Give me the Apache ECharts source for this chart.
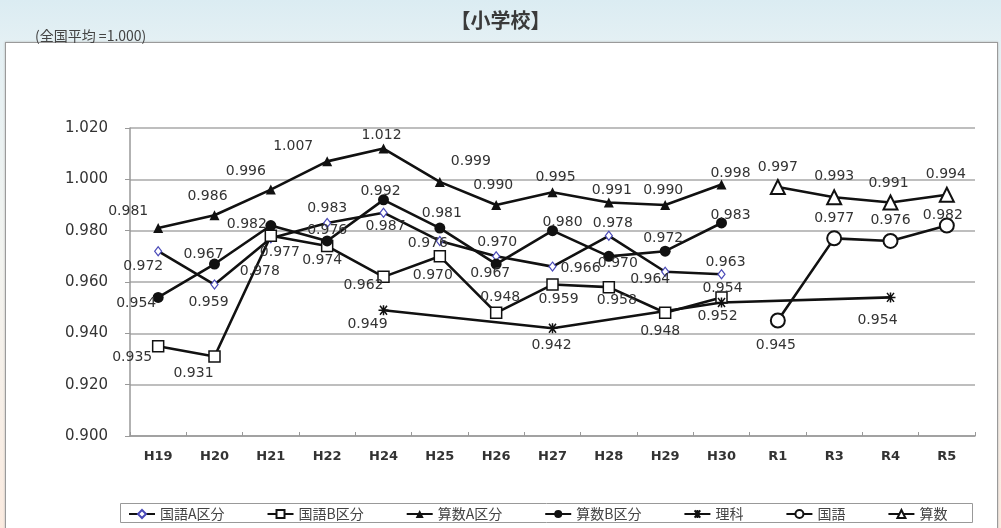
<!DOCTYPE html>
<html>
<head>
<meta charset="utf-8">
<script src="https://cdn.jsdelivr.net/npm/echarts@6/dist/echarts.min.js"></script>
<style>
  html, body { margin: 0; padding: 0; width: 1001px; height: 528px; overflow: hidden; }
  body { background: linear-gradient(180deg, #dbecf2 0%, #e4f0f4 42px, #f3f4f0 260px, #fbebe0 528px); }
  #panel { position: absolute; left: 5px; top: 42px; width: 991px; height: 500px; background: #fff;
           border: 1px solid #9a9a9a; box-shadow: 0 0 2px #b8b8b8; }
  #chart { position: absolute; left: 0; top: 0; width: 1001px; height: 528px; }
</style>
</head>
<body>
<div id="panel"></div>
<div id="chart"></div>
<script>
// School years (平成 / 令和)
const categories = ['H19', 'H20', 'H21', 'H22', 'H24', 'H25', 'H26', 'H27', 'H28', 'H29', 'H30', 'R1', 'R3', 'R4', 'R5'];
const yTicks = [0.900, 0.920, 0.940, 0.960, 0.980, 1.000, 1.020];

// Ratio to the national average (全国平均 = 1.000)
const kokugoA = [0.972, 0.959, 0.977, 0.983, 0.987, 0.976, 0.970, 0.966, 0.978, 0.964, 0.963, null, null, null, null];
const kokugoB = [0.935, 0.931, 0.978, 0.974, 0.962, 0.970, 0.948, 0.959, 0.958, 0.948, 0.954, null, null, null, null];
const sansuA  = [0.981, 0.986, 0.996, 1.007, 1.012, 0.999, 0.990, 0.995, 0.991, 0.990, 0.998, null, null, null, null];
const sansuB  = [0.954, 0.967, 0.982, 0.976, 0.992, 0.981, 0.967, 0.980, 0.970, 0.972, 0.983, null, null, null, null];
const rika    = [null, null, null, null, 0.949, null, null, 0.942, null, null, 0.952, null, null, 0.954, null];
const kokugo  = [null, null, null, null, null, null, null, null, null, null, null, 0.945, 0.977, 0.976, 0.982];
const sansu   = [null, null, null, null, null, null, null, null, null, null, null, 0.997, 0.993, 0.991, 0.994];

// Where each value label sits relative to its marker, in pixels [dx, dy]
const nudge = {
  kokugoA: [[-15,15],[-6,18],[9,14],[0,-15],[2,14],[-12,2],[1,-14],[28,2],[4,-12],[-15,8],[4,-12]],
  kokugoB: [[-26,11],[-21,17],[-11,36],[-5,14],[-20,8],[-7,19],[4,-15],[6,15],[8,13],[-5,19],[1,-9]],
  sansuA:  [[-30,-17],[-7,-19],[-25,-18],[-34,-15],[-2,-13],[31,-21],[-3,-20],[3,-15],[3,-12],[-2,-15],[9,-11]],
  sansuB:  [[-22,6],[-11,-10],[-24,-1],[0,-11],[-3,-9],[2,-15],[-6,9],[10,-8],[9,7],[-2,-13],[9,-8]],
  rika:    {4:[-16,14], 7:[-1,17], 10:[-4,14], 13:[-13,23]},
  kokugo:  {11:[-2,25], 12:[0,-20], 13:[0,-21], 14:[-4,-10]},
  sansu:   {11:[0,-20], 12:[0,-21], 13:[-2,-19], 14:[-1,-20]}
};

const NUM_FONT = '"DejaVu Sans", Verdana, sans-serif';
const JP_FONT = '"Noto Sans CJK JP", sans-serif';
const INK = '#111';

function points(values, offsets) {
  return values.map((v, i) => {
    if (v == null) return null;
    const off = offsets[i] || [0, -14];
    return { value: v, label: { offset: off } };
  });
}

function lineSeries(name, values, offsets, symbol, symbolSize, itemStyle, extra) {
  return Object.assign({
    name: name,
    type: 'line',
    data: points(values, offsets),
    symbol: symbol,
    symbolSize: symbolSize,
    showAllSymbol: true,
    itemStyle: itemStyle,
    lineStyle: { color: INK, width: 2.6 },
    emphasis: { disabled: true },
    z: 3,
    label: {
      show: true,
      position: 'inside',
      align: 'center',
      verticalAlign: 'middle',
      fontFamily: NUM_FONT,
      fontSize: 14,
      color: '#333',
      formatter: p => Number(p.value).toFixed(3)
    }
  }, extra || {});
}

const asterisk = 'path://M0,5L10,5M1.5,0.5L8.5,9.5M8.5,0.5L1.5,9.5M5,0L5,10';

const chart = echarts.init(document.getElementById('chart'), null, { renderer: 'canvas' });
chart.setOption({
  animation: false,
  backgroundColor: 'transparent',
  textStyle: { fontFamily: NUM_FONT },
  title: [
    { text: '【小学校】', left: 'center', top: 5,
      textStyle: { fontSize: 20, fontWeight: 'bold', color: '#3a3a3a', fontFamily: JP_FONT } },
    { text: '(全国平均 =1.000)', left: 30, top: 24,
      textStyle: { fontSize: 14, fontWeight: 'normal', color: '#444', fontFamily: JP_FONT } }
  ],
  grid: { left: 130, right: 26, top: 128, bottom: 92, containLabel: false },
  xAxis: {
    type: 'category',
    data: categories,
    boundaryGap: true,
    axisLine: { lineStyle: { color: '#999', width: 1.5 } },
    axisTick: { show: true, inside: true, length: 4, lineStyle: { color: '#999' } },
    axisLabel: { fontSize: 13, fontWeight: 'bold', color: '#333', margin: 14, fontFamily: NUM_FONT }
  },
  yAxis: {
    type: 'value',
    min: yTicks[0],
    max: yTicks[yTicks.length - 1],
    interval: 0.02,
    axisLine: { show: true, lineStyle: { color: '#999', width: 1.5 } },
    axisTick: { show: true, length: 5, lineStyle: { color: '#999' } },
    axisLabel: { fontSize: 15, color: '#333', margin: 22, fontFamily: NUM_FONT,
                 formatter: v => Number(v).toFixed(3) },
    splitLine: { lineStyle: { color: '#a8a8a8', width: 1.5 } }
  },
  legend: {
    top: 502,
    left: 128,
    padding: [5, 0],
    itemGap: 42,
    itemWidth: 26,
    itemHeight: 10,
    textStyle: { fontSize: 14, color: '#444', fontFamily: JP_FONT },
    data: ['国語A区分', '国語B区分', '算数A区分', '算数B区分', '理科', '国語', '算数']
  },
  graphic: [{
    type: 'rect', left: 120, top: 503, silent: true,
    shape: { width: 852, height: 19 },
    style: { fill: 'transparent', stroke: '#999', lineWidth: 1 }
  }],
  series: [
    lineSeries('国語A区分', kokugoA, nudge.kokugoA, 'diamond', [7, 9],
      { color: '#fff', borderColor: '#4a4ab8', borderWidth: 1.2 }),
    lineSeries('国語B区分', kokugoB, nudge.kokugoB, 'rect', 11,
      { color: '#fff', borderColor: INK, borderWidth: 1.5 }),
    lineSeries('算数A区分', sansuA, nudge.sansuA, 'triangle', 10,
      { color: INK, borderColor: INK, borderWidth: 0 }),
    lineSeries('算数B区分', sansuB, nudge.sansuB, 'circle', 11,
      { color: INK, borderColor: INK, borderWidth: 0 }),
    lineSeries('理科', rika, nudge.rika, asterisk, 10,
      { color: INK, borderColor: INK, borderWidth: 1.5 }, { connectNulls: true }),
    lineSeries('国語', kokugo, nudge.kokugo, 'circle', 14,
      { color: '#fff', borderColor: INK, borderWidth: 2 }),
    lineSeries('算数', sansu, nudge.sansu, 'triangle', 14,
      { color: '#fff', borderColor: INK, borderWidth: 2 })
  ]
});
</script>
</body>
</html>
